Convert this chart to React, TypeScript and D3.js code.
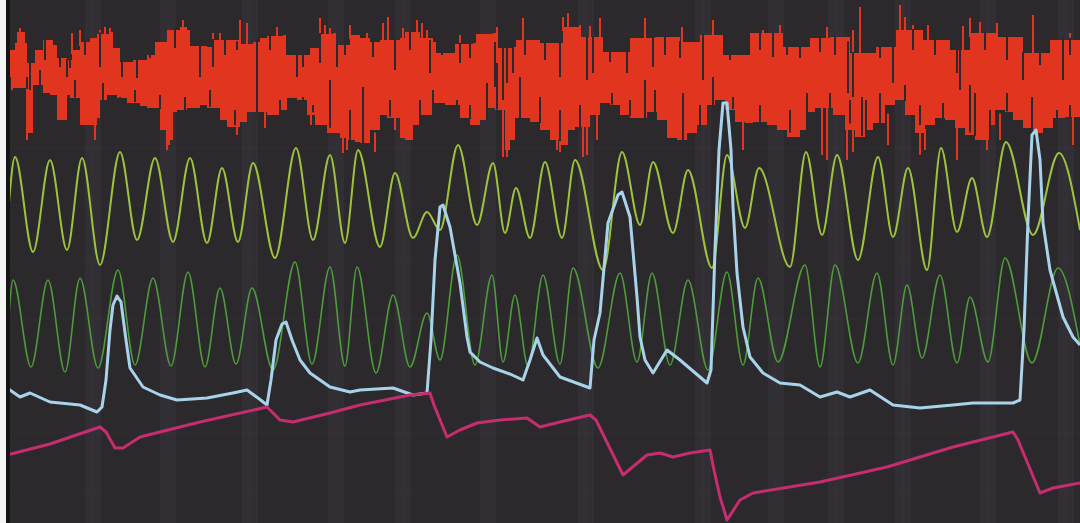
import React from 'react';
import * as d3 from 'd3';

type Pt = [number, number];

const W = 1080;
const H = 523;

// red trace: upper and lower envelope of the dense signal
const redTop: Pt[] = [
  [7, 50], [15, 43], [17, 32], [23, 32], [25, 43], [27, 63], [33, 63], [35, 50], [43, 40], [53, 45],
  [57, 58], [67, 60], [72, 50], [80, 42], [90, 38], [97, 34], [110, 32], [113, 48], [120, 62], [133, 60],
  [147, 55], [155, 42], [167, 30], [180, 27], [187, 30], [190, 46], [207, 47], [212, 40], [233, 40], [240, 44],
  [253, 42], [260, 38], [267, 36], [283, 35], [286, 55], [300, 55], [310, 48], [320, 34], [333, 33], [336, 45],
  [347, 45], [350, 35], [360, 38], [370, 42], [380, 40], [400, 38], [405, 32], [413, 32], [420, 38], [433, 42],
  [436, 53], [447, 53], [455, 44], [473, 43], [476, 34], [493, 33], [496, 48], [513, 47], [516, 40], [533, 40],
  [540, 43], [560, 43], [563, 27], [577, 27], [580, 37], [600, 37], [603, 52], [627, 52], [630, 38], [647, 38],
  [655, 37], [673, 37], [680, 42], [693, 42], [700, 35], [720, 35], [723, 55], [747, 55], [750, 33], [780, 33],
  [783, 47], [807, 47], [810, 38], [827, 38], [830, 37], [847, 37], [850, 53], [873, 53], [876, 47], [893, 47],
  [896, 30], [920, 30], [923, 40], [947, 40], [950, 50], [967, 50], [970, 33], [993, 33], [996, 37], [1020, 37],
  [1023, 53], [1047, 53], [1050, 40], [1080, 38],
];

const redBottom: Pt[] = [
  [7, 100], [13, 90], [27, 88], [29, 133], [33, 133], [36, 85], [43, 85], [50, 93], [57, 95], [60, 120],
  [67, 120], [70, 95], [80, 98], [88, 125], [97, 125], [100, 118], [107, 100], [117, 95], [127, 98], [140, 103],
  [147, 106], [160, 108], [167, 130], [170, 145], [173, 140], [177, 112], [187, 110], [200, 108], [207, 105], [220, 108],
  [227, 120], [240, 127], [247, 122], [257, 112], [267, 112], [280, 115], [287, 110], [297, 98], [307, 100], [315, 115],
  [327, 125], [340, 133], [347, 138], [355, 140], [360, 142], [370, 143], [380, 130], [387, 115], [400, 118], [405, 138],
  [413, 140], [420, 125], [433, 115], [445, 103], [460, 105], [470, 118], [480, 125], [487, 120], [495, 108], [505, 110],
  [510, 150], [515, 140], [520, 118], [530, 118], [540, 122], [550, 130], [560, 140], [568, 145], [575, 130], [590, 127],
  [600, 115], [610, 103], [620, 105], [630, 115], [647, 118], [657, 112], [667, 120], [677, 138], [687, 140], [697, 133],
  [707, 125], [715, 105], [725, 100], [735, 110], [745, 122], [753, 123], [767, 122], [777, 125], [787, 130], [800, 137],
  [807, 130], [815, 112], [833, 108], [845, 115], [855, 130], [865, 137], [873, 130], [885, 123], [895, 105], [905, 100],
  [915, 115], [925, 133], [935, 125], [945, 118], [955, 120], [965, 128], [975, 135], [990, 140], [995, 125], [1005, 110],
  [1013, 112], [1023, 120], [1033, 128], [1043, 133], [1053, 128], [1065, 118], [1080, 117],
];

// dark gaps cutting into the red from above / below: [x, y reached]
const darkDown: Pt[] = [
  [30, 90], [45, 60], [60, 67], [67, 77], [70, 68], [85, 55], [100, 67], [122, 77], [137, 78], [150, 58],
  [175, 48], [200, 77], [213, 67], [225, 55], [237, 50], [257, 90], [270, 50], [297, 77], [303, 67], [320, 63],
  [337, 67], [345, 55], [373, 57], [395, 70], [410, 50], [430, 73], [442, 55], [460, 63], [470, 58], [495, 87],
  [503, 100], [507, 83], [513, 73], [525, 55], [545, 60], [560, 77], [587, 80], [593, 73], [610, 62], [627, 73],
  [653, 67], [665, 55], [680, 58], [703, 80], [730, 60], [760, 50], [773, 57], [787, 55], [800, 58], [820, 52],
  [835, 55], [848, 93], [853, 97], [880, 58], [893, 83], [913, 50], [935, 55], [957, 73], [960, 90], [985, 50],
  [1007, 60], [1023, 80], [1040, 65], [1063, 80], [1070, 55],
];

const darkUp: Pt[] = [
  [10, 77], [27, 77], [40, 70], [55, 100], [75, 80], [103, 83], [120, 105], [135, 90], [160, 95], [185, 97],
  [210, 90], [235, 110], [257, 87], [280, 100], [303, 97], [313, 105], [330, 80], [350, 110], [363, 87], [390, 100],
  [420, 100], [433, 90], [457, 100], [470, 105], [487, 83], [497, 63], [520, 77], [540, 97], [560, 110], [580, 105],
  [612, 93], [630, 100], [645, 80], [655, 90], [683, 93], [700, 105], [713, 77], [733, 97], [760, 105], [790, 110],
  [807, 93], [830, 93], [850, 100], [862, 97], [866, 100], [880, 93], [905, 85], [920, 105], [943, 103], [970, 85],
  [975, 93], [990, 110], [1007, 93], [1032, 97], [1057, 110], [1070, 105],
];

// thin red spikes beyond the envelope: [x, y reached]
const redUp: Pt[] = [
  [20, 28], [72, 33], [80, 30], [100, 30], [105, 27], [110, 28], [183, 20], [213, 33], [220, 33], [240, 20],
  [247, 23], [277, 27], [320, 18], [325, 25], [330, 28], [350, 25], [367, 33], [383, 23], [388, 17], [403, 28],
  [417, 20], [422, 23], [427, 30], [460, 35], [497, 27], [523, 18], [563, 17], [568, 13], [580, 25], [590, 26],
  [600, 18], [645, 18], [682, 27], [713, 20], [763, 30], [780, 25], [827, 27], [853, 30], [860, 7], [900, 5],
  [905, 17], [913, 25], [928, 25], [963, 26], [970, 18], [980, 22], [997, 23], [1033, 15], [1070, 33],
];

const redDown: Pt[] = [
  [27, 140], [95, 140], [167, 150], [237, 135], [265, 128], [311, 125], [343, 153], [347, 150], [375, 152], [395, 130],
  [503, 157], [507, 157], [557, 150], [560, 152], [583, 157], [587, 155], [597, 140], [743, 150], [822, 155], [827, 160],
  [847, 160], [853, 152], [888, 145], [920, 155], [925, 150], [957, 160], [987, 150], [1000, 140], [1073, 145],
];

const yellowGreen: Pt[] = [
  [8, 215], [15, 157], [33, 252], [50, 160], [67, 250], [82, 158], [100, 265], [120, 152], [137, 240], [155, 158],
  [173, 242], [190, 158], [207, 243], [222, 168], [238, 242], [253, 163], [275, 258], [296, 148], [313, 240], [330, 155],
  [345, 243], [358, 150], [380, 247], [395, 173], [413, 238], [427, 212], [440, 230], [458, 145], [477, 225], [493, 163],
  [505, 233], [516, 188], [530, 238], [545, 162], [562, 238], [575, 160], [603, 270], [622, 152], [640, 225], [653, 162],
  [673, 233], [688, 170], [712, 268], [727, 155], [745, 228], [759, 168], [790, 267], [806, 152], [822, 235], [837, 155],
  [858, 260], [878, 157], [893, 237], [908, 168], [927, 270], [941, 148], [957, 232], [972, 178], [987, 237], [1006, 142],
  [1033, 235], [1059, 153], [1080, 230],
];

const darkGreen: Pt[] = [
  [8, 330], [13, 280], [31, 367], [48, 280], [65, 372], [80, 278], [98, 368], [118, 270], [135, 365], [153, 278],
  [171, 366], [188, 272], [205, 367], [220, 288], [236, 364], [252, 288], [273, 370], [295, 262], [312, 364], [330, 267],
  [345, 366], [357, 267], [376, 373], [393, 295], [410, 367], [427, 313], [440, 360], [457, 255], [475, 365], [492, 275],
  [503, 362], [515, 295], [528, 366], [543, 275], [560, 364], [573, 268], [598, 368], [620, 273], [637, 362], [652, 273],
  [670, 365], [688, 280], [708, 370], [727, 272], [743, 365], [758, 278], [778, 362], [805, 265], [820, 367], [835, 265],
  [858, 363], [877, 273], [893, 365], [907, 285], [922, 358], [940, 275], [957, 363], [970, 297], [988, 362], [1005, 258],
  [1032, 363], [1058, 268], [1080, 345],
];

const blue: Pt[] = [
  [7, 388], [20, 397], [30, 393], [50, 402], [80, 405], [97, 412], [102, 407], [106, 380], [110, 330], [113, 305],
  [117, 296], [121, 302], [126, 340], [130, 368], [143, 387], [160, 395], [177, 400], [207, 398], [233, 393], [247, 390],
  [258, 398], [267, 405], [271, 380], [276, 340], [282, 324], [286, 322], [292, 340], [300, 360], [310, 373], [330, 387],
  [350, 392], [360, 390], [393, 388], [413, 395], [427, 393], [431, 340], [435, 260], [440, 207], [443, 205], [450, 227],
  [460, 283], [467, 337], [470, 352], [480, 362], [493, 368], [510, 374], [523, 380], [530, 360], [537, 338], [543, 355],
  [560, 377], [590, 388], [594, 340], [600, 313], [608, 223], [618, 195], [622, 192], [630, 217], [637, 297], [640, 337],
  [645, 360], [653, 373], [667, 350], [680, 360], [707, 383], [711, 370], [715, 250], [719, 150], [723, 103], [727, 103],
  [731, 150], [733, 207], [737, 273], [743, 327], [750, 357], [763, 373], [780, 383], [800, 385], [820, 397], [837, 392],
  [850, 397], [870, 390], [893, 405], [920, 408], [953, 405], [973, 403], [1013, 403], [1020, 400], [1024, 330], [1028, 220],
  [1032, 135], [1036, 130], [1040, 160], [1043, 223], [1050, 270], [1063, 317], [1073, 337], [1080, 345],
];

const magenta: Pt[] = [
  [7, 455], [50, 444], [100, 427], [106, 432], [115, 448], [123, 448], [140, 437], [200, 422], [267, 407], [272, 412],
  [280, 420], [293, 422], [330, 413], [360, 405], [410, 395], [430, 393], [434, 405], [447, 437], [460, 430], [477, 423],
  [500, 420], [527, 418], [540, 427], [560, 422], [590, 415], [596, 420], [623, 475], [647, 455], [660, 453], [673, 457],
  [690, 453], [710, 450], [714, 470], [720, 497], [727, 520], [740, 500], [753, 493], [820, 482], [887, 467], [953, 447],
  [1013, 432], [1018, 440], [1040, 493], [1053, 488], [1080, 483],
];

// lighter vertical bands of the screen background
const bandX = [85, 160, 242, 328, 395, 480, 578, 695, 768, 828, 895, 980, 1058];
const gridY = [34, 91, 148, 205, 262, 319, 376, 433, 490];

const BG = '#2b292c';

const x = d3.scaleLinear().domain([0, 1080]).range([0, W]);
const y = d3.scaleLinear().domain([0, 523]).range([0, H]);

const envAt = (env: Pt[], xv: number) => {
  const i = d3.bisector((d: Pt) => d[0]).left(env, xv);
  if (i <= 0) return env[0][1];
  if (i >= env.length) return env[env.length - 1][1];
  const a = env[i - 1], b = env[i];
  const t = (xv - a[0]) / (b[0] - a[0] || 1);
  return a[1] + (b[1] - a[1]) * t;
};

const App: React.FC = () => {
  const lin = d3.line<Pt>().x(d => x(d[0])).y(d => y(d[1]));
  const step = d3.line<Pt>().x(d => x(d[0])).y(d => y(d[1])).curve(d3.curveStepAfter);
  const smooth = d3.line<Pt>().x(d => x(d[0])).y(d => y(d[1])).curve(d3.curveMonotoneX);

  // closed red shape: stepped top edge, then stepped bottom edge back
  const topD = step(redTop) || '';
  const botD = (step(redBottom.slice().reverse()) || '').replace(/^M/, 'L');
  const redPath = topD + botD + 'Z';

  return (
    <svg width={W} height={H} style={{ position: 'absolute', left: 0, top: 0, display: 'block' }}>
      <rect x={0} y={0} width={W} height={H} fill={BG} />
      {bandX.map(b => (
        <rect key={b} x={x(b)} y={0} width={16} height={H} fill="#353137" opacity={0.75} />
      ))}
      {bandX.map(b => (
        <line key={'v' + b} x1={x(b) + 8} x2={x(b) + 8} y1={0} y2={H} stroke="#3e3a40" strokeWidth={1} opacity={0.45} />
      ))}
      {gridY.map(g => (
        <line key={g} x1={0} x2={W} y1={y(g)} y2={y(g)} stroke="#3a3539" strokeWidth={1} opacity={0.5} />
      ))}

      <path d={redPath} fill="#e2351f" />
      {redUp.map(([sx, sy], i) => (
        <line key={'ru' + i} x1={x(sx)} x2={x(sx)} y1={y(envAt(redTop, sx) + 4)} y2={y(sy)} stroke="#e2351f" strokeWidth={2} />
      ))}
      {redDown.map(([sx, sy], i) => (
        <line key={'rd' + i} x1={x(sx)} x2={x(sx)} y1={y(envAt(redBottom, sx) - 4)} y2={y(sy)} stroke="#e2351f" strokeWidth={2} />
      ))}
      {darkDown.map(([sx, sy], i) => (
        <line key={'dd' + i} x1={x(sx)} x2={x(sx)} y1={y(envAt(redTop, sx) - 1)} y2={y(sy)} stroke={BG} strokeWidth={2} />
      ))}
      {darkUp.map(([sx, sy], i) => (
        <line key={'du' + i} x1={x(sx)} x2={x(sx)} y1={y(envAt(redBottom, sx) + 1)} y2={y(sy)} stroke={BG} strokeWidth={2} />
      ))}

      <path d={smooth(yellowGreen) || ''} fill="none" stroke="#9dc33d" strokeWidth={2} />
      <path d={smooth(darkGreen) || ''} fill="none" stroke="#4e9b3b" strokeWidth={1.6} />
      <path d={lin(blue) || ''} fill="none" stroke="#a9d3ea" strokeWidth={3} strokeLinejoin="round" />
      <path d={lin(magenta) || ''} fill="none" stroke="#c62d6f" strokeWidth={3} strokeLinejoin="round" />

      <rect x={0} y={0} width={6} height={H} fill="#f4f4f4" />
      <rect x={6} y={0} width={4} height={H} fill="#161516" />
    </svg>
  );
};

export default App;
